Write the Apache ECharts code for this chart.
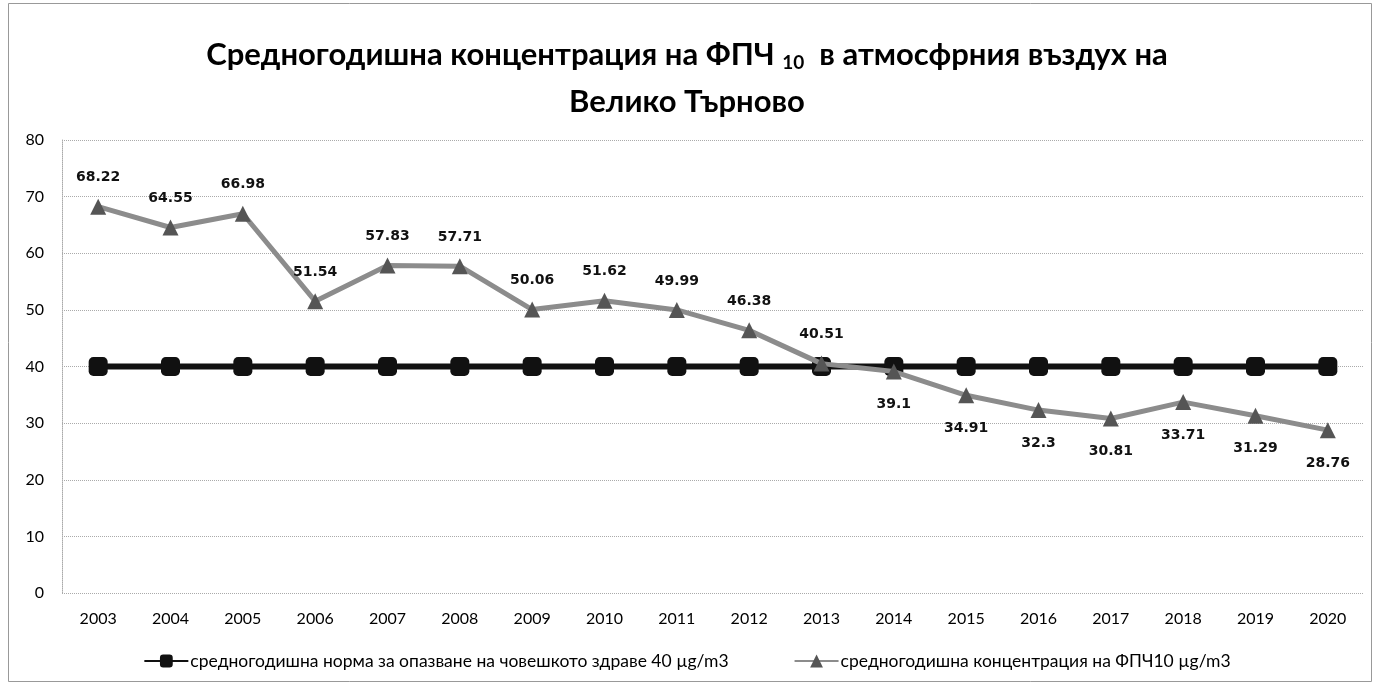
<!DOCTYPE html>
<html><head><meta charset="utf-8">
<script src="https://cdn.jsdelivr.net/npm/echarts@6/dist/echarts.min.js"></script>
<style>html,body{margin:0;padding:0;background:#fff}#c{width:1374px;height:683px}</style>
</head><body><div id="c"></div>
<script>
const years = ['2003','2004','2005','2006','2007','2008','2009','2010','2011','2012','2013','2014','2015','2016','2017','2018','2019','2020'];
const normValues = [40,40,40,40,40,40,40,40,40,40,40,40,40,40,40,40,40,40];
const pmValues = [68.22,64.55,66.98,51.54,57.83,57.71,50.06,51.62,49.99,46.38,40.51,39.1,34.91,32.3,30.81,33.71,31.29,28.76];
const normName = 'средногодишна норма за опазване на човешкото здраве 40 µg/m3';
const pmName = 'средногодишна концентрация на ФПЧ10 µg/m3';

const chart = echarts.init(document.getElementById('c'));
const lblFont = {fontFamily:'DejaVu Sans', fontWeight:'bold', fontSize:14, color:'#111'};
chart.setOption({
  backgroundColor:'#fff',
  graphic:[{type:'rect', shape:{x:8.5,y:3.5,width:1363,height:678}, style:{fill:'none', stroke:'#999', lineWidth:1}}],
  title:{
    left:'center', top:26,
    text:'{t|Средногодишна концентрация на ФПЧ }{s|10}{t|  в атмосфрния въздух на}\n{t|Велико Търново}',
    textStyle:{
      rich:{
        t:{fontFamily:'Lato', fontWeight:'bold', fontSize:31, color:'#000', lineHeight:47},
        s:{fontFamily:'Lato', fontWeight:'bold', fontSize:19, color:'#000', padding:[16,0,0,0], lineHeight:47}
      }
    }
  },
  grid:{left:62, right:10, top:140, bottom:90, containLabel:false},
  legend:{
    top:647, left:'center', itemGap:65, itemWidth:44, itemHeight:16,
    textStyle:{fontFamily:'Lato', fontSize:17.5, color:'#000', padding:[0,0,0,-3]},
    data:[normName, pmName]
  },
  xAxis:{
    type:'category', data:years, boundaryGap:true,
    axisLine:{show:false}, axisTick:{show:false},
    axisLabel:{fontFamily:'Lato', fontSize:16, color:'#000', margin:18}
  },
  yAxis:{
    type:'value', min:0, max:80, interval:10,
    axisLine:{show:true, lineStyle:{color:'#aaa', type:'dotted'}},
    axisTick:{show:false},
    splitLine:{lineStyle:{color:'#aaa', type:'dotted', width:1}},
    axisLabel:{fontFamily:'Lato', fontSize:16, color:'#000', margin:18}
  },
  series:[
    {
      name:normName, type:'line', data:normValues,
      symbol:'roundRect', symbolSize:19,
      lineStyle:{color:'#111', width:6},
      itemStyle:{color:'#111'},
      z:2
    },
    {
      name:pmName, type:'line', data:pmValues,
      symbol:'triangle', symbolSize:16,
      lineStyle:{color:'#8c8c8c', width:5},
      itemStyle:{color:'#555'},
      z:3,
      label:{
        show:true, ...lblFont,
        position:'top', distance:14,
        formatter:p=>String(pmValues[p.dataIndex])
      },
      labelLayout:function(p){
        if(p.dataIndex>=11){
          return {dy: p.rect.height + 46};
        }
        return {};
      }
    }
  ]
});
</script></body></html>
